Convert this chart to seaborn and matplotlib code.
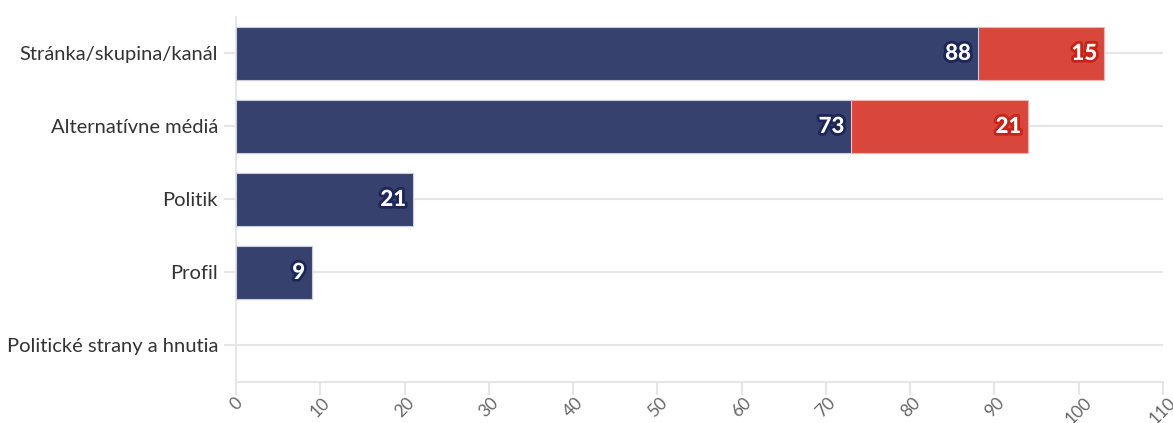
import numpy as np
import pandas as pd
import matplotlib.pyplot as plt
import matplotlib.patheffects as pe
import seaborn as sns

# data
kategorie = ['Stránka/skupina/kanál', 'Alternatívne médiá', 'Politik', 'Profil',
             'Politické strany a hnutia']
modra = [88, 73, 21, 9, 0]
cervena = [15, 21, 0, 0, 0]
xticky = [0, 10, 20, 30, 40, 50, 60, 70, 80, 90, 100, 110]

c_modra = '#36416e'
c_cervena = '#d9463b'
c_grid = '#e6e6e6'

df = pd.DataFrame({'kat': kategorie, 'modra': modra, 'cervena': cervena})
df['spolu'] = df['modra'] + df['cervena']

sns.set_theme(style='white')
plt.rcParams['font.family'] = ['Lato', 'DejaVu Sans']

fig, ax = plt.subplots(figsize=(11.73, 4.23), dpi=100)
fig.subplots_adjust(left=0.2012, right=0.9915, top=0.96, bottom=0.097)

# stacked: draw total in red first, then blue over it
sns.barplot(data=df, y='kat', x='spolu', color=c_cervena, saturation=1, width=0.73,
            edgecolor='#f2b5b0', linewidth=0.8, ax=ax, zorder=3)
sns.barplot(data=df, y='kat', x='modra', color=c_modra, saturation=1, width=0.73,
            edgecolor='#c9cde0', linewidth=0.8, ax=ax, zorder=4)

# hide zero-width bars
for p in ax.patches:
    if p.get_width() == 0:
        p.set_visible(False)

for i in range(len(kategorie)):
    if modra[i] > 0:
        ax.text(modra[i] - 0.8, i, str(modra[i]), ha='right', va='center',
                color='white', fontsize=16, fontweight='black', zorder=6,
                path_effects=[pe.withStroke(linewidth=4, foreground='#1c2658')])
    if cervena[i] > 0:
        ax.text(modra[i] + cervena[i] - 0.8, i, str(cervena[i]), ha='right', va='center',
                color='white', fontsize=16, fontweight='black', zorder=6,
                path_effects=[pe.withStroke(linewidth=4, foreground='#c8231a')])

ax.set_xlim(0, 110)
ax.set_ylim(len(kategorie) - 0.5, -0.5)
ax.set_xticks(xticky)
ax.set_xticklabels([str(t) for t in xticky], rotation=45, ha='center',
                   fontsize=12.5, color='#666666')
ax.set_yticks(range(len(kategorie)))
ax.set_yticklabels(kategorie, fontsize=14.5, color='#333333')
ax.set_xlabel('')
ax.set_ylabel('')

for y in range(len(kategorie)):
    ax.axhline(y, color=c_grid, linewidth=1.5, zorder=1)

sns.despine(ax=ax, top=True, right=True)
ax.spines['left'].set_color(c_grid)
ax.spines['left'].set_linewidth(1.5)
ax.spines['bottom'].set_color(c_grid)
ax.spines['bottom'].set_linewidth(1.5)
ax.tick_params(axis='both', which='both', length=9, width=1.5, color=c_grid,
               bottom=True, left=True)
ax.tick_params(axis='y', pad=4)
ax.tick_params(axis='x', pad=0)

fig.savefig('out.png', dpi=100)
